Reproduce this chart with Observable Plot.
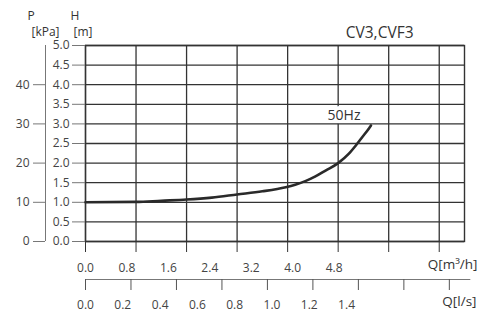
<!DOCTYPE html>
<html><head><meta charset="utf-8">
<script src="https://cdn.jsdelivr.net/npm/d3@7"></script>
<script src="https://cdn.jsdelivr.net/npm/@observablehq/plot@0.6"></script>
<style>body{margin:0;background:#fff}</style>
</head><body><div id="chart"></div>
<script>
// 50 Hz pump curve: flow Q [m³/h] vs head H [m]
const flowQ = [0, 0.8, 1.2, 1.6, 2.0, 2.4, 2.8, 3.17, 3.32, 3.48, 3.64, 3.8, 4.0, 4.17, 4.27, 4.38, 4.49, 4.52];
const headH = [1.0, 1.01, 1.04, 1.07, 1.12, 1.2, 1.28, 1.385, 1.45, 1.54, 1.66, 1.81, 2.0, 2.24, 2.43, 2.66, 2.89, 2.96];
const seriesName = "50Hz";
const title = "CV3,CVF3";

// axes
const qGrid = [0, 0.8, 1.6, 2.4, 3.2, 4.0, 4.8, 5.6];
const qTickLabels = [0, 0.8, 1.6, 2.4, 3.2, 4.0, 4.8];
const lsTicks = [0, 0.2, 0.4, 0.6, 0.8, 1.0, 1.2, 1.4, 1.6];
const lsTickLabels = [0, 0.2, 0.4, 0.6, 0.8, 1.0, 1.2, 1.4];
const hTicks = [0, 0.5, 1.0, 1.5, 2.0, 2.5, 3.0, 3.5, 4.0, 4.5, 5.0];
const pTicks = [0, 10, 20, 30, 40];

const curve = flowQ.map((q, i) => ({q, h: headH[i]}));
const LS_TO_M3H = 3.6;      // 1 l/s = 3.6 m³/h
const labelShrink = 0.82;   // reference draws its tick labels compressed toward the origin
const ink = "#333";
const font = "Open Sans, Noto Sans, sans-serif";

const chart = Plot.plot({
  width: 479, height: 316,
  marginLeft: 85, marginRight: 15, marginTop: 45, marginBottom: 75,
  style: {fontFamily: font, fontSize: "12px", color: ink, background: "#fff"},
  x: {domain: [0, 6]},
  y: {domain: [0, 5]},
  marks: [
    Plot.gridX(qGrid, {stroke: ink, strokeOpacity: 1, strokeWidth: 1.3}),
    Plot.text([curve[curve.length - 1]], {x: "q", y: "h", text: () => seriesName, dx: -27, dy: -10,
      fontSize: 14, fill: ink, stroke: "white", strokeWidth: 8}),
    Plot.gridY(hTicks, {stroke: ink, strokeOpacity: 1, strokeWidth: 1.3}),
    Plot.frame({stroke: ink, strokeWidth: 1.4}),
    // H axis
    Plot.axisY(hTicks, {tickSize: 13, tickPadding: 3, tickFormat: d => d.toFixed(1), label: null,
      stroke: "#777", fill: "#444", fontSize: 12}),
    // P axis (kPa), 10 kPa ≈ 1 m
    Plot.ruleX([0], {y1: 0, y2: 5, dx: -40, stroke: "#777"}),
    Plot.axisY(pTicks.map(p => p / 10), {tickSize: 12, tickPadding: 4, dx: -40,
      tickFormat: d => String(Math.round(d * 10)), label: null, stroke: "#777", fill: "#444", fontSize: 12}),
    // Q m³/h axis
    Plot.axisX(qGrid, {tickSize: 11, tickFormat: () => "", label: null, stroke: ink}),
    Plot.text(qTickLabels, {x: d => d * labelShrink, frameAnchor: "bottom", lineAnchor: "middle", dy: 27,
      text: d => d.toFixed(1), fill: "#444", fontSize: 12}),
    // Q l/s axis
    Plot.ruleY([0], {x1: 0, x2: 6.1, dy: 38, stroke: "#777", strokeWidth: 1.2}),
    Plot.axisX(lsTicks.map(d => d * LS_TO_M3H), {tickSize: 11, dy: 38, tickFormat: () => "", label: null, stroke: "#555"}),
    Plot.text(lsTickLabels, {x: d => d * LS_TO_M3H * labelShrink, frameAnchor: "bottom", lineAnchor: "middle", dy: 64,
      text: d => d.toFixed(1), fill: "#444", fontSize: 12}),
    // curve
    Plot.line(curve, {x: "q", y: "h", curve: "monotone-x", stroke: "#2a2a2a", strokeWidth: 2.6}),
    // titles
    Plot.text(["P"], {frameAnchor: "top-left", lineAnchor: "middle", dx: -58, dy: -29, fontSize: 12, fill: ink}),
    Plot.text(["[kPa]"], {frameAnchor: "top-left", lineAnchor: "middle", dx: -54, dy: -13, fontSize: 12, fill: ink}),
    Plot.text(["H"], {frameAnchor: "top-left", lineAnchor: "middle", dx: -15, dy: -29, fontSize: 12, fill: ink}),
    Plot.text(["[m]"], {frameAnchor: "top-left", lineAnchor: "middle", dx: -12, dy: -13, fontSize: 12, fill: ink}),
    Plot.text([title], {frameAnchor: "top-right", lineAnchor: "middle", dx: -51, dy: -12, fontSize: 15.5, fill: ink}),
    Plot.text(["Q[m³/h]"], {frameAnchor: "bottom-right", lineAnchor: "middle", textAnchor: "end", dx: 13, dy: 23, fontSize: 13.5, fill: ink}),
    Plot.text(["Q[l/s]"], {frameAnchor: "bottom-right", lineAnchor: "middle", textAnchor: "end", dx: 12, dy: 60, fontSize: 13.5, fill: ink})
  ]
});
document.getElementById("chart").appendChild(chart);
</script>
</body></html>
